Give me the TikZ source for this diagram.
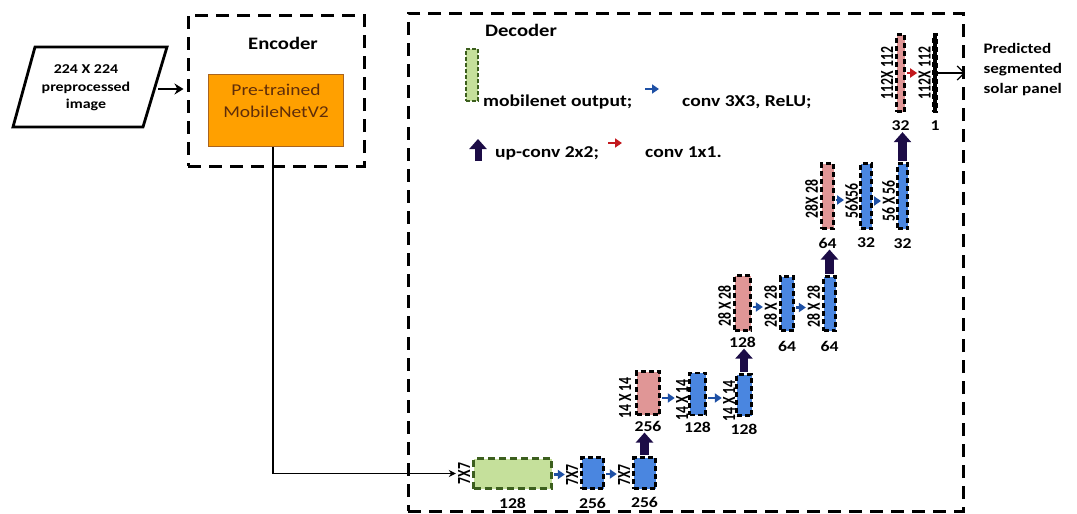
\documentclass[tikz,border=0pt]{standalone}
\usepackage{fontspec}
\setmainfont[FakeStretch=1.18]{Carlito}
\newfontfamily\rotfont[FakeStretch=0.74]{Carlito}
\usetikzlibrary{arrows.meta}
\definecolor{blockblue}{RGB}{74,134,224}
\definecolor{blockpink}{RGB}{224,150,150}
\definecolor{mgreen}{RGB}{197,224,155}
\definecolor{mgreenline}{RGB}{60,95,30}
\definecolor{orfill}{RGB}{255,160,0}
\definecolor{orline}{RGB}{170,100,30}
\definecolor{ortext}{RGB}{95,45,10}
\definecolor{convblue}{RGB}{30,80,165}
\definecolor{convredc}{RGB}{195,25,30}
\definecolor{upnavy}{RGB}{28,12,70}
\begin{document}
\begin{tikzpicture}[x=1pt,y=-1pt,
  dbox/.style={draw=black, line width=3pt, dash pattern=on 13pt off 8pt, inner sep=0pt},
  titletxt/.style={font=\bfseries\fontsize{17.5}{20}\selectfont, inner sep=0pt},
  blk/.style={draw=black, line width=2.6pt, dash pattern=on 5pt off 3pt, inner sep=0pt},
  blueblk/.style={blk, fill=blockblue},
  pinkblk/.style={blk, fill=blockpink},
  dimlbl/.style={rotate=90, anchor=south, inner sep=1pt, font=\rotfont\bfseries\fontsize{18.5}{19}\selectfont},
  numlbl/.style={anchor=north, inner sep=1pt, font=\bfseries\fontsize{15}{16}\selectfont},
  convarrow/.style={draw=convblue, line width=2.8pt, -{Triangle[length=7pt,width=9pt]}, shorten <=1.5pt},
  convredarrow/.style={convarrow, draw=convredc},
  uparrow/.style={draw=upnavy, line width=8.5pt, -{Triangle[length=10pt,width=17pt]}, shorten <=1.3pt},
  linkarrow/.style={draw=black, line width=1.1pt, -{Stealth[length=7pt,width=7pt]}, shorten >=1pt},
  inarrow/.style={draw=black, line width=2.6pt, -{Stealth[length=9pt,width=11pt]}, shorten >=3pt},
  outarrow/.style={draw=black, line width=1.2pt, -{Straight Barb[length=7pt,width=14pt]}},
  legtxt/.style={anchor=base west, inner sep=0pt, font=\bfseries\fontsize{16.6}{18}\selectfont}
]
\useasboundingbox (0,0) rectangle (1077,514);

% input
\node[align=center, font=\bfseries\fontsize{13.5}{17.5}\selectfont] (inp) at (86,88) {224 X 224\\preprocessed\\image};
\draw[line width=2.8pt, line join=miter] (35,47) -- (167,47) -- (143,127) -- (13,127) -- cycle;
\coordinate (inR) at (158,89);

% encoder
\node[dbox, minimum width=176pt, minimum height=151pt] (enc) at (276,90.5) {};
\node[titletxt] (enct) at (283,43) {Encoder};
\node[draw=orline, line width=0.8pt, fill=orfill, minimum width=135pt, minimum height=72pt, inner sep=0pt] (mob) at (276,110.5) {};
\node[align=center, text=ortext, font=\fontsize{16.5}{22.5}\selectfont] (mobt) at (276,101) {Pre-trained\\MobileNetV2};
\draw[inarrow] (inR) -- (inR -| enc.west);

% decoder
\node[dbox, minimum width=555pt, minimum height=498pt] (dec) at (685.5,262) {};
\node[titletxt] (dect) at (521,30) {Decoder};

% legend
\node[draw=mgreenline, fill=mgreen, line width=1.5pt, dash pattern=on 4pt off 2pt, minimum width=12pt, minimum height=52pt, inner sep=0pt] (leg1) at (472,75) {};
\node[legtxt] (leg1t) at (483,106) {mobilenet output;};
\coordinate (lc1) at (645,89); \coordinate (lc2) at (659,89);
\draw[convarrow, shorten <=0pt] (lc1) -- (lc2);
\node[legtxt] (leg2t) at (682,106) {conv 3X3, ReLU;};
\coordinate (lu1) at (478,161); \coordinate (lu2) at (478,139);
\draw[uparrow, line width=7pt, shorten <=0pt] (lu1) -- (lu2);
\node[legtxt] (leg3t) at (495,157) {up-conv 2x2;};
\coordinate (lr1) at (608,143); \coordinate (lr2) at (622,143);
\draw[convredarrow, shorten <=0pt] (lr1) -- (lr2);
\node[legtxt] (leg4t) at (645,157) {conv 1x1.};

% level 7
\node[draw=mgreenline, fill=mgreen, line width=2.6pt, dash pattern=on 7pt off 4pt, minimum width=78pt, minimum height=30pt, inner sep=0pt] (g) at (512.5,473.5) {};
\node[dimlbl] (lg) at ([xshift=-1pt]g.west) {7X7};
\node[numlbl] (ng) at ([yshift=-7pt]g.south) {128};
\node[blueblk, minimum width=22pt, minimum height=31pt] (b71) at (592.5,473) {};
\node[dimlbl] (l71) at ([xshift=-1pt,yshift=-2pt]b71.west) {7X7};
\node[numlbl] (n71) at ([yshift=-7pt]b71.south) {256};
\node[blueblk, minimum width=22pt, minimum height=31pt] (b72) at (644.5,473) {};
\node[dimlbl] (l72) at ([xshift=-1pt,yshift=-2pt]b72.west) {7X7};
\node[numlbl] (n72) at ([yshift=-6pt]b72.south) {256};

% level 14
\node[pinkblk, minimum width=23pt, minimum height=43pt] (p14) at (648,393) {};
\node[dimlbl] (lp14) at ([xshift=-3pt,yshift=-5pt]p14.west) {14 X 14};
\node[numlbl] (np14) at ([yshift=-4pt]p14.south) {256};
\node[blueblk, minimum width=16pt, minimum height=42pt] (b141) at (697.5,394) {};
\node[dimlbl] (l141) at ([xshift=1pt,yshift=-6pt]b141.west) {14 X 14};
\node[numlbl] (n141) at ([yshift=-5pt]b141.south) {128};
\node[blueblk, minimum width=15pt, minimum height=41pt] (b142) at (744,395) {};
\node[dimlbl] (l142) at ([xshift=1pt,yshift=-6pt]b142.west) {14 X 14};
\node[numlbl] (n142) at ([yshift=-6pt]b142.south) {128};

% level 28
\node[pinkblk, minimum width=16pt, minimum height=55pt] (p28) at (742.5,303) {};
\node[dimlbl] (lp28) at ([xshift=-1pt,yshift=-3pt]p28.west) {28 X 28};
\node[numlbl] (np28) at ([yshift=-4pt]p28.south) {128};
\node[blueblk, minimum width=13pt, minimum height=54pt] (b281) at (787,303.5) {};
\node[dimlbl] (l281) at ([xshift=-1pt,yshift=-3pt]b281.west) {28 X 28};
\node[numlbl] (n281) at ([yshift=-8pt]b281.south) {64};
\node[blueblk, minimum width=12pt, minimum height=54pt] (b282) at (829.5,303.5) {};
\node[dimlbl] (l282) at ([xshift=-1pt,yshift=-3pt]b282.west) {28 X 28};
\node[numlbl] (n282) at ([yshift=-8pt]b282.south) {64};

% level 56
\node[pinkblk, minimum width=12pt, minimum height=65pt] (p56) at (827.5,196) {};
\node[dimlbl] (lp56) at ([xshift=-1pt,yshift=-3pt]p56.west) {28X 28};
\node[numlbl] (np56) at ([yshift=-7pt]p56.south) {64};
\node[blueblk, minimum width=11pt, minimum height=65pt] (b561) at (866,196) {};
\node[dimlbl] (l561) at ([xshift=0pt,yshift=-5pt]b561.west) {56X56};
\node[numlbl] (n561) at ([yshift=-7pt]b561.south) {32};
\node[blueblk, minimum width=10pt, minimum height=65pt] (b562) at (902.5,196) {};
\node[dimlbl] (l562) at ([xshift=0pt,yshift=-5pt]b562.west) {56 X 56};
\node[numlbl] (n562) at ([yshift=-8pt]b562.south) {32};

% level 112
\node[pinkblk, minimum width=8pt, minimum height=77pt] (p112) at (900.5,73) {};
\node[dimlbl] (lp112) at ([xshift=-1pt]p112.west) {112X 112};
\node[numlbl] (np112) at ([yshift=-7pt]p112.south) {32};
\node[blk, fill=black, minimum width=4pt, minimum height=77pt] (k112) at (935,73) {};
\node[dimlbl] (lk112) at ([xshift=0pt]k112.west) {112X 112};
\node[numlbl] (nk112) at ([yshift=-7pt]k112.south) {1};

\node[anchor=west, align=left, font=\bfseries\fontsize{14.5}{20}\selectfont] (pred) at (980,70) {Predicted\\segmented\\solar panel};

% connectors
\draw[linkarrow] ([xshift=-3pt]mob.south) |- (lg.north);
\draw[convarrow] ([yshift=-1pt]g.east) -- ([yshift=-1pt]g.east -| l71.north);
\draw[convarrow] ([yshift=-1pt]b71.east) -- ([yshift=-1pt]b71.east -| l72.north);
\draw[uparrow] (b72.north) -- (b72.north |- np14.south);
\draw[convarrow] ([yshift=-5pt]p14.east) -- ([yshift=-5pt]p14.east -| l141.north);
\draw[convarrow] ([yshift=-4pt]b141.east) -- ([yshift=-4pt]b141.east -| l142.north);
\draw[uparrow] (b142.north) -- (b142.north |- np28.south);
\draw[convarrow] ([yshift=-4pt]p28.east) -- ([yshift=-4pt]p28.east -| l281.north);
\draw[convarrow] ([yshift=-4pt]b281.east) -- ([yshift=-4pt]b281.east -| l282.north);
\draw[uparrow] (b282.north) -- (b282.north |- np56.south);
\draw[convarrow] ([yshift=-4pt]p56.east) -- ([yshift=-4pt]p56.east -| l561.north);
\draw[convarrow] ([yshift=-5pt]b561.east) -- ([yshift=-5pt]b561.east -| l562.north);
\draw[uparrow] (b562.north) -- (b562.north |- np112.south);
\draw[convredarrow] (p112.east) -- (p112.east -| lk112.north);
\coordinate (outend) at (965,73);
\draw[outarrow] (k112.east) -- (outend);
\end{tikzpicture}
\end{document}
